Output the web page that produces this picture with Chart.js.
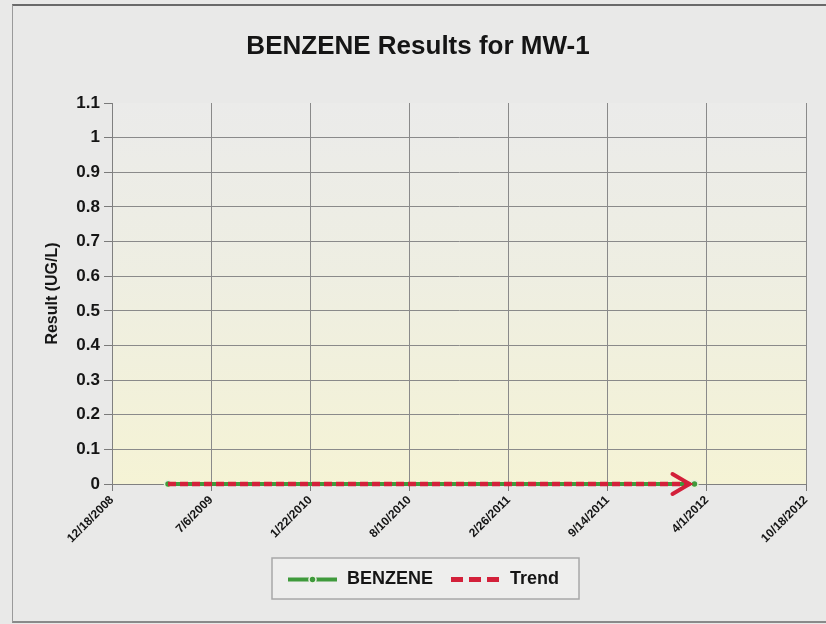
<!DOCTYPE html>
<html>
<head>
<meta charset="utf-8">
<title>BENZENE Results for MW-1</title>
<script src="https://cdn.jsdelivr.net/npm/chart.js@4/dist/chart.umd.min.js"></script>
<style>
    html, body { margin: 0; padding: 0; background: #e9e9e8; }
    #frame {
        position: absolute; left: 12px; top: 4px; width: 830px; height: 615px;
        border-top: 2px solid #6a6a6a; border-left: 1px solid #9a9a9a; border-bottom: 2px solid #8a8a8a;
    }
    canvas { position: absolute; left: 0; top: 0; }
</style>
</head>
<body>
<div id="frame"></div>
<canvas id="chart" width="826" height="624"></canvas>
<script>
// sample dates (m/d/yyyy) and results
const sampleDates = ['4/10/2009', '3/7/2012'];
const benzeneValues = [0, 0];
const trendDates = ['4/10/2009', '2/26/2012'];
const trendValues = [0, 0];

const xTickLabels = ['12/18/2008', '7/6/2009', '1/22/2010', '8/10/2010', '2/26/2011', '9/14/2011', '4/1/2012', '10/18/2012'];
const yTickLabels = ['0', '0.1', '0.2', '0.3', '0.4', '0.5', '0.6', '0.7', '0.8', '0.9', '1', '1.1'];

const chartTitle = 'BENZENE Results for MW-1';
const GREEN = '#3f9a3c';
const RED = '#d3203a';
const FONT = '"Liberation Sans", Arial, sans-serif';
const DAY = 86400000;

function toDays(str) {
    const [m, d, y] = str.split('/').map(Number);
    const [m0, d0, y0] = xTickLabels[0].split('/').map(Number);
    return Math.round((Date.UTC(y, m - 1, d) - Date.UTC(y0, m0 - 1, d0)) / DAY);
}

const xStep = toDays(xTickLabels[1]);
const xMax = toDays(xTickLabels[xTickLabels.length - 1]);

const plotBackground = {
    id: 'plotBackground',
    beforeDraw(chart) {
        const { ctx, chartArea: a } = chart;
        const g = ctx.createLinearGradient(0, a.top, 0, a.bottom);
        g.addColorStop(0, '#ebebea');
        g.addColorStop(0.45, '#eeeee2');
        g.addColorStop(1, '#f5f3d5');
        ctx.save();
        ctx.fillStyle = g;
        ctx.fillRect(a.left, a.top, a.right - a.left, a.bottom - a.top);
        ctx.restore();
    }
};

const trendArrow = {
    id: 'trendArrow',
    afterDatasetsDraw(chart) {
        const meta = chart.getDatasetMeta(1);
        const last = meta.data[meta.data.length - 1];
        if (!last) return;
        const { ctx } = chart;
        ctx.save();
        ctx.strokeStyle = RED;
        ctx.lineWidth = 4;
        ctx.lineCap = 'round';
        ctx.beginPath();
        ctx.moveTo(last.x - 17, last.y - 10);
        ctx.lineTo(last.x, last.y);
        ctx.lineTo(last.x - 17, last.y + 10);
        ctx.stroke();
        ctx.restore();
    }
};

const titleAndLegend = {
    id: 'titleAndLegend',
    afterDraw(chart) {
        const { ctx } = chart;
        ctx.save();
        ctx.fillStyle = '#151515';
        ctx.font = `bold 26px ${FONT}`;
        ctx.textAlign = 'center';
        ctx.textBaseline = 'middle';
        ctx.fillText(chartTitle, 418, 47);

        const box = { x: 272, y: 558, w: 307, h: 41 };
        const midY = box.y + box.h / 2 + 1;
        ctx.fillStyle = '#eeeeed';
        ctx.fillRect(box.x, box.y, box.w, box.h);
        ctx.strokeStyle = '#a8a8a8';
        ctx.lineWidth = 1.5;
        ctx.strokeRect(box.x, box.y, box.w, box.h);

        // BENZENE sample
        ctx.strokeStyle = GREEN;
        ctx.lineWidth = 4;
        ctx.beginPath();
        ctx.moveTo(288, midY);
        ctx.lineTo(337, midY);
        ctx.stroke();
        ctx.beginPath();
        ctx.arc(312.5, midY, 3.5, 0, Math.PI * 2);
        ctx.fillStyle = GREEN;
        ctx.fill();
        ctx.strokeStyle = '#eef2e6';
        ctx.lineWidth = 1.5;
        ctx.stroke();

        // Trend sample
        ctx.strokeStyle = RED;
        ctx.lineWidth = 5;
        ctx.setLineDash([12, 6]);
        ctx.beginPath();
        ctx.moveTo(451, midY);
        ctx.lineTo(499, midY);
        ctx.stroke();
        ctx.setLineDash([]);

        ctx.fillStyle = '#151515';
        ctx.font = `bold 18px ${FONT}`;
        ctx.textAlign = 'left';
        ctx.fillText(chart.data.datasets[0].label, 347, midY);
        ctx.fillText(chart.data.datasets[1].label, 510, midY);
        ctx.restore();
    }
};

new Chart(document.getElementById('chart'), {
    type: 'line',
    data: {
        datasets: [{
            label: 'BENZENE',
            data: sampleDates.map((d, i) => ({ x: toDays(d), y: benzeneValues[i] })),
            borderColor: GREEN,
            borderWidth: 4,
            pointRadius: 3.5,
            pointBackgroundColor: GREEN,
            pointBorderColor: '#e6efdc',
            pointBorderWidth: 1.5,
            tension: 0,
            order: 2
        }, {
            label: 'Trend',
            data: trendDates.map((d, i) => ({ x: toDays(d), y: trendValues[i] })),
            borderColor: RED,
            borderWidth: 4.5,
            borderDash: [8, 4],
            pointRadius: 0,
            tension: 0,
            order: 1
        }]
    },
    options: {
        responsive: false,
        animation: false,
        clip: false,
        layout: { padding: { left: 0, right: 20, top: 103, bottom: 0 } },
        plugins: {
            legend: { display: false },
            tooltip: { enabled: false },
            title: { display: false }
        },
        scales: {
            x: {
                type: 'linear',
                min: 0,
                max: xMax,
                afterFit: (scale) => { scale.height = 140; },
                afterBuildTicks: (scale) => {
                    scale.ticks = xTickLabels.map((_, i) => ({ value: i * xStep }));
                },
                ticks: {
                    autoSkip: false,
                    minRotation: 45,
                    maxRotation: 45,
                    padding: 2,
                    color: '#151515',
                    font: { family: FONT, size: 12, weight: 'bold' },
                    callback: (value, index) => xTickLabels[index]
                },
                grid: { color: '#8a8a8a', tickColor: '#7a7a7a', tickLength: 7, lineWidth: 1 },
                border: { color: '#808080' }
            },
            y: {
                min: 0,
                max: 1.1,
                afterFit: (scale) => { scale.width = 112; },
                afterBuildTicks: (scale) => {
                    scale.ticks = yTickLabels.map((t) => ({ value: Number(t) }));
                },
                ticks: {
                    padding: 4,
                    color: '#151515',
                    font: { family: FONT, size: 17, weight: 'bold' },
                    callback: (value, index) => yTickLabels[index]
                },
                grid: {
                    color: (c) => (c.index === yTickLabels.length - 1 || c.index === 0) ? 'rgba(0,0,0,0)' : '#8a8a8a',
                    tickColor: '#7a7a7a',
                    tickLength: 8,
                    lineWidth: 1
                },
                border: { color: '#808080' },
                title: {
                    display: true,
                    text: 'Result (UG/L)',
                    color: '#151515',
                    font: { family: FONT, size: 16, weight: 'bold' },
                    padding: { top: 43, bottom: 0 }
                }
            }
        }
    },
    plugins: [plotBackground, trendArrow, titleAndLegend]
});
</script>
</body>
</html>
